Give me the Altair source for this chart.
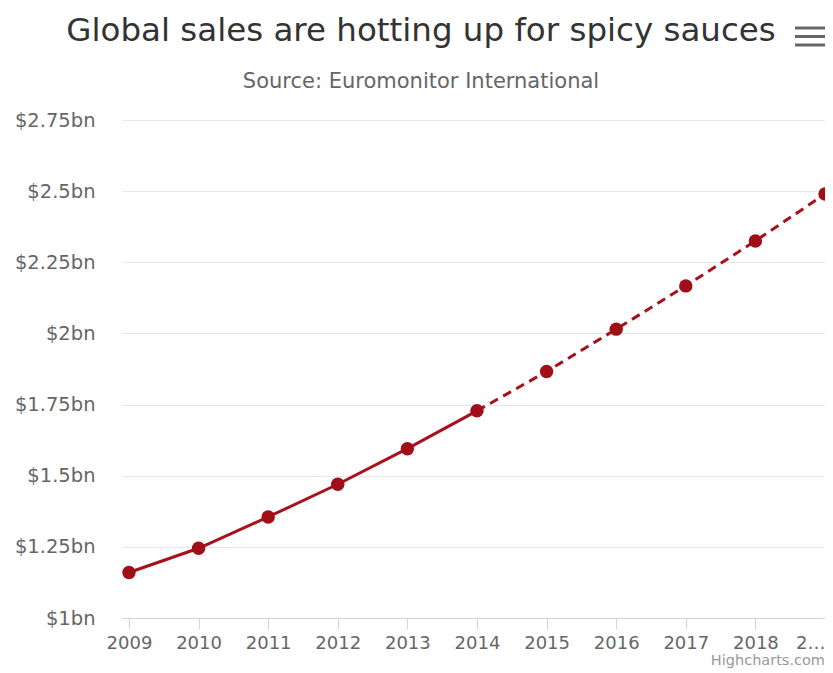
import altair as alt
import pandas as pd

years = [2009, 2010, 2011, 2012, 2013, 2014, 2015, 2016, 2017, 2018, 2019]
sales_bn = [1.16, 1.245, 1.355, 1.47, 1.595, 1.728, 1.866, 2.015, 2.167, 2.325, 2.49]
actual_until = 2014
y_ticks = [1, 1.25, 1.5, 1.75, 2, 2.25, 2.5, 2.75]

title_text = "Global sales are hotting up for spicy sauces"
subtitle_text = "Source: Euromonitor International"
credit_text = "Highcharts.com"

df = pd.DataFrame({"year": years, "sales": sales_bn})
actual = df[df["year"] <= actual_until]
forecast = df[df["year"] >= actual_until]

RED = "#a8101b"
FONT = "DejaVu Sans"

x_enc = alt.X(
    "year:Q",
    scale=alt.Scale(domain=[2008.9, 2019.0], nice=False, zero=False),
    axis=alt.Axis(
        values=years, format="d", title=None, grid=False,
        labelExpr="datum.value == 2019 ? '2…' : datum.label",
        labelAlign=alt.condition("datum.value == 2019", alt.value("right"), alt.value("center")),
        domainColor="#ccd6eb", tickColor="#ccd6eb", tickSize=11,
        labelFontSize=18, labelColor="#666666", labelFont=FONT,
        labelPadding=5, labelFlush=False, labelOverlap=False,
    ),
)
y_enc = alt.Y(
    "sales:Q",
    scale=alt.Scale(domain=[1, 2.75], nice=False, zero=False),
    axis=alt.Axis(
        values=y_ticks, title=None, labelExpr="'$' + datum.value + 'bn'",
        domain=False, ticks=False, gridColor="#e6e6e6", gridWidth=1,
        labelFontSize=19.5, labelColor="#666666", labelFont=FONT,
        labelPadding=27,
    ),
)

solid = alt.Chart(actual).mark_line(color=RED, strokeWidth=3).encode(x=x_enc, y=y_enc)
dashed = alt.Chart(forecast).mark_line(color=RED, strokeWidth=3, strokeDash=[9, 6]).encode(x=x_enc, y=y_enc)
points = alt.Chart(df).mark_point(filled=True, color="#a00e18", size=180, opacity=1).encode(x=x_enc, y=y_enc)

one = alt.Data(values=[{}])
title = alt.Chart(one).mark_text(
    text=title_text, align="center", baseline="alphabetic", fontSize=32.5, color="#333333", font=FONT
).encode(x=alt.value(299), y=alt.value(-79))
subtitle = alt.Chart(one).mark_text(
    text=subtitle_text, align="center", baseline="alphabetic", fontSize=21, color="#666666", font=FONT
).encode(x=alt.value(299), y=alt.value(-32))
credit = alt.Chart(one).mark_text(
    text=credit_text, align="right", baseline="alphabetic", fontSize=14.5, color="#999999", font=FONT
).encode(x=alt.value(703), y=alt.value(545))

bars = [
    alt.Chart(one).mark_rule(color="#666666", strokeWidth=3).encode(
        x=alt.value(673), x2=alt.value(703), y=alt.value(yy)
    )
    for yy in (-92, -83.5, -75)
]

chart = alt.layer(solid, dashed, points, title, subtitle, credit, *bars).properties(
    width=703,
    height=498,
    autosize=alt.AutoSizeParams(type="none"),
    padding={"left": 114, "top": 112, "right": 0, "bottom": 52},
).configure_view(stroke=None)

chart.save("out.html", embed_options={"renderer": "svg", "actions": False})
